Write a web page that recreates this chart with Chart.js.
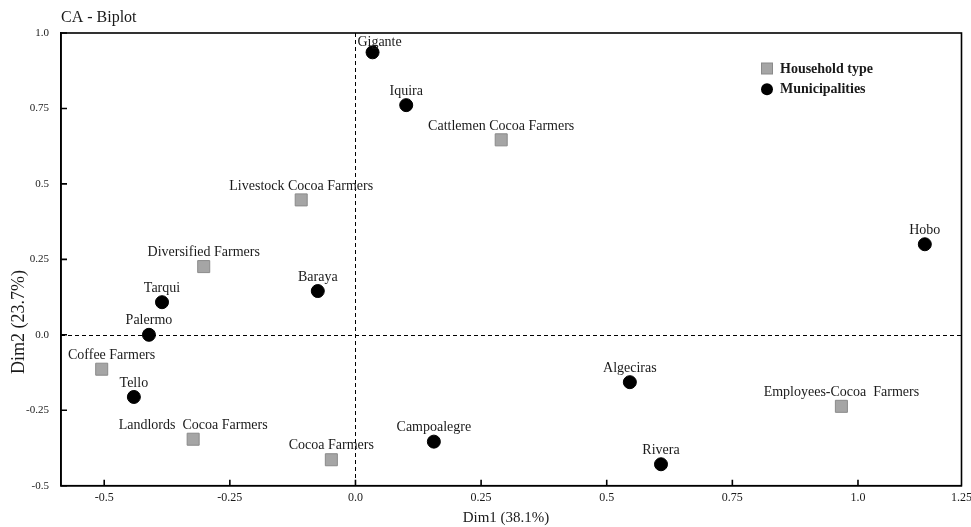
<!DOCTYPE html>
<html><head><meta charset="utf-8">
<script src="https://cdn.jsdelivr.net/npm/chart.js@4.4.1/dist/chart.umd.min.js"></script>
<style>html,body{margin:0;padding:0;background:#fff;} canvas{display:block;}</style>
</head><body>
<canvas id="c" width="971" height="527"></canvas>
<script>
const householdTypes = ['Cattlemen Cocoa Farmers','Livestock Cocoa Farmers','Diversified Farmers','Coffee Farmers','Landlords  Cocoa Farmers','Cocoa Farmers','Employees-Cocoa  Farmers'];
const householdX = [0.290, -0.108, -0.302, -0.505, -0.323, -0.048, 0.967];
const householdY = [0.646, 0.447, 0.226, -0.114, -0.346, -0.414, -0.237];
const municipalities = ['Gigante','Iquira','Hobo','Baraya','Tarqui','Palermo','Tello','Algeciras','Campoalegre','Rivera'];
const municipalityX = [0.034, 0.101, 1.133, -0.075, -0.385, -0.411, -0.441, 0.546, 0.156, 0.608];
const municipalityY = [0.936, 0.761, 0.300, 0.145, 0.108, 0.000, -0.206, -0.157, -0.354, -0.429];
const xTickValues = [-0.5, -0.25, 0, 0.25, 0.5, 0.75, 1.0];
const xTickLabels = ['-0.5','-0.25','0.0','0.25','0.5','0.75','1.0','1.25'];
const yTickValues = [-0.5, -0.25, 0, 0.25, 0.5, 0.75, 1.0];
const yTickLabels = ['-0.5','-0.25','0.0','0.25','0.5','0.75','1.0'];
const X_MIN = -0.586, X_MAX = 1.206, Y_MIN = -0.5, Y_MAX = 1.0;

const SERIF = "'Liberation Serif', 'DejaVu Serif', serif";

function toPoints(xs, ys) { return xs.map((x, i) => ({ x: x, y: ys[i] })); }

const decor = {
  id: 'decor',
  beforeDatasetsDraw(chart) {
    const { ctx, chartArea: a, scales: { x, y } } = chart;
    ctx.save();
    ctx.strokeStyle = '#000';
    ctx.lineWidth = 1;
    ctx.setLineDash([4, 3]);
    const x0 = Math.round(x.getPixelForValue(0)) + 0.5;
    const y0 = Math.round(y.getPixelForValue(0)) + 0.5;
    ctx.beginPath(); ctx.moveTo(x0, a.top); ctx.lineTo(x0, a.bottom); ctx.stroke();
    ctx.beginPath(); ctx.moveTo(a.left, y0); ctx.lineTo(a.right, y0); ctx.stroke();
    ctx.restore();
  },
  afterDatasetsDraw(chart) {
    const { ctx, chartArea: a, scales: { x, y } } = chart;
    ctx.save();
    // frame
    ctx.strokeStyle = '#000';
    ctx.lineWidth = 1.6;
    ctx.strokeRect(a.left, a.top, a.right - a.left, a.bottom - a.top);
    // inward tick marks
    ctx.beginPath();
    xTickValues.forEach(v => { const p = x.getPixelForValue(v); ctx.moveTo(p, a.bottom); ctx.lineTo(p, a.bottom - 6); });
    yTickValues.forEach(v => { const p = y.getPixelForValue(v); ctx.moveTo(a.left, p); ctx.lineTo(a.left + 6, p); });
    ctx.stroke();
    // point labels (kept inside the plot frame)
    ctx.fillStyle = '#1a1a1a';
    ctx.font = '14px ' + SERIF;
    ctx.textAlign = 'center';
    ctx.textBaseline = 'middle';
    chart.data.datasets.forEach((ds, di) => {
      const meta = chart.getDatasetMeta(di);
      meta.data.forEach((el, i) => {
        const txt = ds.pointLabels[i];
        const w = ctx.measureText(txt).width;
        let cx = el.x;
        if (cx - w / 2 < a.left + 7) cx = a.left + 7 + w / 2;
        if (cx + w / 2 > a.right - 7) cx = a.right - 7 - w / 2;
        let cy = el.y - 14;
        if (cy < a.top + 9) { cy = a.top + 9; cx += 7; }
        ctx.fillText(txt, cx, cy);
      });
    });
    // title
    ctx.textAlign = 'left';
    ctx.font = '16px ' + SERIF;
    ctx.fillText('CA - Biplot', 61, 18);
    // axis titles
    ctx.textAlign = 'center';
    ctx.font = '15px ' + SERIF;
    ctx.fillText('Dim1 (38.1%)', 506, 518);
    ctx.save();
    ctx.translate(19, 322);
    ctx.rotate(-Math.PI / 2);
    ctx.font = '18px ' + SERIF;
    ctx.fillText('Dim2 (23.7%)', 0, 0);
    ctx.restore();
    // legend
    ctx.fillStyle = '#a5a5a5';
    ctx.strokeStyle = '#8a8a8a';
    ctx.lineWidth = 1;
    ctx.fillRect(761.5, 63, 11, 11);
    ctx.strokeRect(761.5, 63, 11, 11);
    ctx.fillStyle = '#000';
    ctx.beginPath(); ctx.arc(767, 89.3, 6, 0, Math.PI * 2); ctx.fill();
    ctx.fillStyle = '#1a1a1a';
    ctx.textAlign = 'left';
    ctx.font = 'bold 14px ' + SERIF;
    ctx.fillText('Household type', 780, 69);
    ctx.fillText('Municipalities', 780, 89.5);
    ctx.restore();
  }
};

new Chart(document.getElementById('c'), {
  type: 'scatter',
  data: {
    datasets: [
      {
        label: 'Household type',
        data: toPoints(householdX, householdY),
        pointLabels: householdTypes,
        pointStyle: 'rect',
        pointRadius: 8.5,
        backgroundColor: '#a5a5a5',
        borderColor: '#8a8a8a',
        borderWidth: 1
      },
      {
        label: 'Municipalities',
        data: toPoints(municipalityX, municipalityY),
        pointLabels: municipalities,
        pointStyle: 'circle',
        pointRadius: 6.5,
        backgroundColor: '#000',
        borderColor: '#000',
        borderWidth: 1
      }
    ]
  },
  options: {
    responsive: false,
    animation: false,
    layout: { padding: { top: 33, left: 0, right: 8.5, bottom: 0 } },
    plugins: { legend: { display: false }, tooltip: { enabled: false } },
    scales: {
      x: {
        type: 'linear',
        min: X_MIN, max: X_MAX,
        afterBuildTicks(scale) { scale.ticks = xTickValues.concat([X_MAX]).map(v => ({ value: v })); },
        afterFit(scale) { scale.height = 41.3; scale.paddingLeft = 0; scale.paddingRight = 0; },
        ticks: {
          autoSkip: false, maxRotation: 0, padding: 5,
          color: '#1a1a1a', font: { family: SERIF, size: 12 },
          callback: (v, i) => xTickLabels[i]
        },
        grid: { display: true, drawOnChartArea: false, drawTicks: false },
        border: { display: true, color: '#000', width: 1.6 }
      },
      y: {
        type: 'linear',
        min: Y_MIN, max: Y_MAX,
        afterBuildTicks(scale) { scale.ticks = yTickValues.map(v => ({ value: v })); },
        afterFit(scale) { scale.width = 61; scale.paddingTop = 0; scale.paddingBottom = 0; },
        ticks: {
          autoSkip: false, padding: 12,
          color: '#1a1a1a', font: { family: SERIF, size: 11 },
          callback: (v, i) => yTickLabels[i]
        },
        grid: { display: true, drawOnChartArea: false, drawTicks: false },
        border: { display: true, color: '#000', width: 1.6 }
      }
    }
  },
  plugins: [decor]
});
</script>
</body></html>
